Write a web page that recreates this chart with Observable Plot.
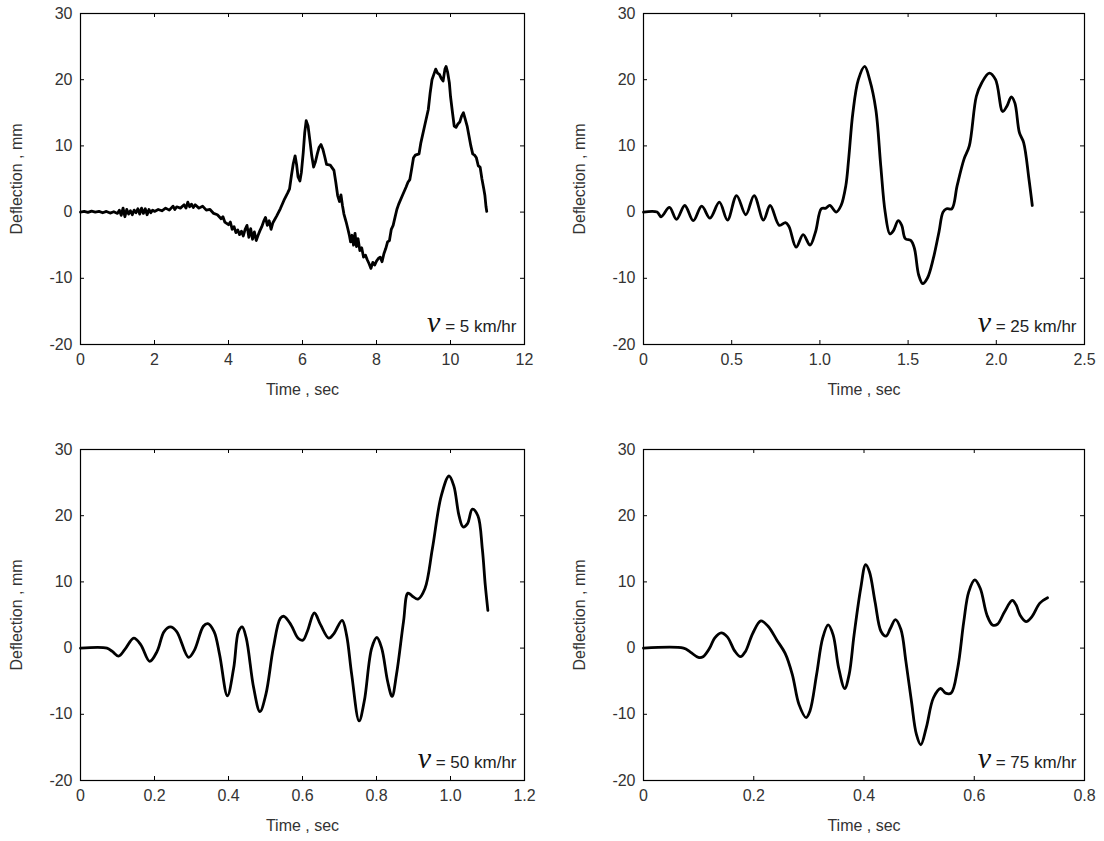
<!DOCTYPE html>
<html>
<head>
<meta charset="utf-8">
<script src="https://cdn.jsdelivr.net/npm/d3@7"></script>
<script src="https://cdn.jsdelivr.net/npm/@observablehq/plot@0.6"></script>
<style>
  html, body { margin: 0; padding: 0; background: #fff; }
  #wrap { position: relative; width: 1104px; height: 841px; overflow: hidden; }
  #wrap > div { position: absolute; }
</style>
</head>
<body>
<div id="wrap"></div>
<script>
// ---------- data ----------
const yTicks = [-20, -10, 0, 10, 20, 30];
const yTickLabels = ["-20", "-10", "0", "10", "20", "30"];

// v = 5 km/hr
const xTicks5 = [0, 2, 4, 6, 8, 10, 12];
const xTickLabels5 = ["0", "2", "4", "6", "8", "10", "12"];
const time5 = [0,0.1,0.2,0.3,0.4,0.5,0.6,0.7,0.8,0.9,1.0,1.05,1.1,1.15,1.2,1.25,1.3,1.35,1.4,1.45,1.5,1.55,1.6,1.65,1.7,1.75,1.8,1.85,1.9,1.95,2.0,2.1,2.2,2.3,2.4,2.5,2.55,2.6,2.7,2.8,2.85,2.9,2.95,3.0,3.05,3.1,3.2,3.3,3.4,3.5,3.6,3.7,3.8,3.85,3.9,4.0,4.05,4.1,4.15,4.2,4.25,4.3,4.35,4.4,4.45,4.5,4.55,4.6,4.65,4.7,4.75,4.8,4.85,4.9,4.95,5.0,5.05,5.1,5.15,5.2,5.3,5.4,5.5,5.6,5.65,5.7,5.75,5.8,5.84,5.88,5.93,5.97,6.02,6.06,6.1,6.15,6.2,6.25,6.3,6.35,6.4,6.45,6.5,6.55,6.6,6.65,6.75,6.85,6.9,6.95,7.0,7.04,7.08,7.12,7.18,7.22,7.27,7.3,7.34,7.38,7.42,7.46,7.5,7.55,7.6,7.65,7.7,7.75,7.8,7.85,7.9,7.95,8.0,8.05,8.1,8.15,8.2,8.25,8.3,8.35,8.4,8.45,8.5,8.55,8.6,8.7,8.8,8.85,8.9,8.95,9.0,9.05,9.15,9.2,9.3,9.4,9.45,9.5,9.55,9.6,9.65,9.7,9.75,9.8,9.85,9.88,9.92,9.97,10.0,10.05,10.1,10.15,10.2,10.25,10.3,10.35,10.4,10.45,10.5,10.55,10.6,10.65,10.7,10.75,10.8,10.85,10.9,10.93,10.96,10.98];
const defl5 = [0,0.1,-0.05,0.15,0.0,0.1,-0.1,0.1,-0.15,0.05,-0.2,0.3,-0.5,0.6,-0.7,0.4,-0.3,0.2,-0.4,0.3,-0.1,0.5,-0.3,0.6,-0.2,0.5,-0.4,0.4,-0.1,0.3,0.1,0.4,0.2,0.6,0.3,0.9,0.4,0.8,0.6,1.1,0.6,1.5,0.8,1.2,0.7,1.1,0.6,0.9,0.3,0.4,-0.2,-0.4,-1.0,-0.7,-1.5,-1.9,-1.5,-2.6,-2.2,-3.1,-2.7,-3.4,-2.9,-3.6,-2.6,-2.0,-3.8,-2.5,-4.1,-3.0,-4.3,-3.5,-2.8,-2.2,-1.4,-0.8,-2.0,-1.3,-2.6,-1.6,-0.6,0.5,1.8,2.9,3.5,5.5,7.3,8.5,7.2,5.3,4.7,6.0,9.0,12.0,13.8,13.0,10.8,8.5,6.8,7.6,8.8,9.8,10.2,9.5,8.4,7.2,7.1,6.3,4.5,2.5,1.6,2.6,1.0,-0.3,-1.5,-2.4,-3.6,-4.5,-3.5,-5.0,-3.2,-5.2,-4.0,-5.8,-5.4,-6.8,-6.5,-7.2,-7.8,-8.5,-7.6,-8.0,-7.4,-7.0,-6.8,-7.5,-6.3,-5.5,-4.5,-4.3,-2.6,-2.0,-0.8,0.4,1.2,2.5,3.8,4.5,4.9,6.5,8.2,8.6,8.8,10.5,13.0,15.5,18.0,20.0,20.8,21.6,21.0,20.8,20.2,19.8,21.6,22.0,21.2,19.5,17.5,15.2,13.0,12.8,13.3,13.6,14.5,15.0,14.0,13.0,11.5,10.0,8.8,8.6,8.2,7.0,6.8,5.0,3.5,2.5,0.8,0.1];

// v = 25 km/hr
const xTicks25 = [0, 0.5, 1.0, 1.5, 2.0, 2.5];
const xTickLabels25 = ["0", "0.5", "1.0", "1.5", "2.0", "2.5"];
const time25 = [0,0.077,0.10,0.147,0.187,0.234,0.282,0.33,0.377,0.43,0.476,0.528,0.58,0.627,0.68,0.718,0.77,0.805,0.825,0.865,0.905,0.944,0.975,1.008,1.034,1.056,1.093,1.12,1.147,1.163,1.187,1.218,1.254,1.282,1.317,1.345,1.37,1.397,1.417,1.444,1.464,1.484,1.516,1.536,1.56,1.583,1.609,1.643,1.675,1.698,1.718,1.748,1.778,1.817,1.847,1.887,1.917,1.96,1.996,2.036,2.06,2.085,2.105,2.131,2.155,2.185,2.204];
const defl25 = [0,0,-0.7,0.7,-1.1,1.0,-1.3,0.9,-0.9,1.5,-1.2,2.5,-0.4,2.5,-1.2,1.0,-2.0,-1.6,-2.2,-5.3,-3.4,-5.0,-3.0,0.5,0.6,1.0,0,1.0,4,8,15,20,22,20,15.5,7,0,-3.3,-2.8,-1.3,-2.0,-4,-4.3,-5.5,-9.5,-10.8,-10,-7,-3,0,0.5,0.5,4,8,10,17.5,19.5,21,20,15.2,16,17.4,16.5,12,10.5,5,1];

// v = 50 km/hr
const xTicks50 = [0, 0.2, 0.4, 0.6, 0.8, 1.0, 1.2];
const xTickLabels50 = ["0", "0.2", "0.4", "0.6", "0.8", "1.0", "1.2"];
const time50 = [0,0.0715,0.086,0.103,0.12,0.144,0.163,0.187,0.207,0.226,0.243,0.26,0.292,0.308,0.332,0.344,0.361,0.376,0.397,0.414,0.427,0.437,0.448,0.468,0.485,0.501,0.521,0.54,0.55,0.569,0.588,0.601,0.613,0.632,0.649,0.671,0.685,0.707,0.719,0.733,0.753,0.767,0.787,0.801,0.814,0.83,0.842,0.854,0.873,0.885,0.898,0.912,0.931,0.951,0.975,0.996,1.009,1.023,1.034,1.046,1.059,1.074,1.086,1.094,1.101];
const defl50 = [0,0,-0.5,-1.2,-0.2,1.5,0.5,-2,-0.5,2.5,3.2,2.5,-1.4,-0.3,3.3,3.7,2.5,-1,-7.2,-3,2.5,3.2,1.5,-6,-9.6,-7,0,4.5,4.8,3.5,1.5,1.2,2.5,5.3,3.5,1.5,2.2,4.2,2,-4,-11,-8,0,1.6,0,-5,-7.3,-4,4,8.3,7.8,7.4,9,15,23,26,24.5,20,18.3,18.8,21,20,15,9.5,5.7];

// v = 75 km/hr
const xTicks75 = [0, 0.2, 0.4, 0.6, 0.8];
const xTickLabels75 = ["0", "0.2", "0.4", "0.6", "0.8"];
const time75 = [0,0.0726,0.085,0.0995,0.108,0.12,0.129,0.141,0.152,0.166,0.176,0.185,0.198,0.213,0.226,0.242,0.257,0.27,0.282,0.295,0.302,0.314,0.325,0.335,0.344,0.354,0.365,0.373,0.382,0.394,0.403,0.41,0.42,0.431,0.44,0.448,0.457,0.467,0.476,0.486,0.495,0.503,0.513,0.526,0.539,0.548,0.558,0.57,0.581,0.59,0.601,0.611,0.623,0.633,0.642,0.655,0.669,0.676,0.683,0.694,0.705,0.719,0.733];
const defl75 = [0,0,-0.6,-1.4,-1.3,0,1.5,2.3,1.7,-0.5,-1.3,-0.5,2.2,4.1,3.3,1.2,-0.8,-4,-8.5,-10.5,-9.5,-4,1.5,3.5,2,-3,-6.1,-4,2,9,12.6,11.5,7,2.5,1.8,3,4.3,2.8,-2,-8,-13,-14.6,-12,-7.5,-6.1,-6.8,-6.8,-3,4,8.5,10.3,9,5,3.5,3.6,5.5,7.2,6.5,5,4,4.8,6.8,7.6];

const speedLabels = ["5 km/hr", "25 km/hr", "50 km/hr", "75 km/hr"];

// ---------- layout ----------
const H = 420, MT = 13, MB = 76, ML = 80;
const panels = [
  {time: time5,  defl: defl5,  xDomain: [0, 12],  xTicks: xTicks5,  xLabels: xTickLabels5,  speed: speedLabels[0], curve: "linear",     left: 0,   top: 0,   width: 552, mr: 28},
  {time: time25, defl: defl25, xDomain: [0, 2.5], xTicks: xTicks25, xLabels: xTickLabels25, speed: speedLabels[1], curve: "catmull-rom", left: 563, top: 0,   width: 541, mr: 20},
  {time: time50, defl: defl50, xDomain: [0, 1.2], xTicks: xTicks50, xLabels: xTickLabels50, speed: speedLabels[2], curve: "catmull-rom", left: 0,   top: 436, width: 552, mr: 28},
  {time: time75, defl: defl75, xDomain: [0, 0.8], xTicks: xTicks75, xLabels: xTickLabels75, speed: speedLabels[3], curve: "catmull-rom", left: 563, top: 436, width: 541, mr: 20}
];

const wrap = document.getElementById("wrap");
const yLabelMap = new Map(yTicks.map((t, i) => [t, yTickLabels[i]]));

panels.forEach(p => {
  const data = p.time.map((t, i) => ({t, d: p.defl[i]}));
  const xLabelMap = new Map(p.xTicks.map((t, i) => [t, p.xLabels[i]]));
  const plotW = p.width - ML - p.mr;
  const plotH = H - MT - MB;
  const chart = Plot.plot({
    width: p.width,
    height: H,
    marginLeft: ML, marginRight: p.mr, marginTop: MT, marginBottom: MB,
    style: {fontFamily: "'Liberation Sans', Arial, sans-serif", fontSize: "16px", color: "#333", background: "transparent", overflow: "visible"},
    x: {domain: p.xDomain},
    y: {domain: [-20, 30]},
    marks: [
      Plot.line(data, {x: "t", y: "d", stroke: "black", strokeWidth: 2.8, curve: p.curve, strokeLinejoin: "round"}),
      Plot.tickX(p.xTicks, {x: d => d, insetTop: plotH - 4, stroke: "black"}),
      Plot.tickX(p.xTicks, {x: d => d, insetBottom: plotH - 4, stroke: "black"}),
      Plot.tickY(yTicks, {y: d => d, insetRight: plotW - 4, stroke: "black"}),
      Plot.tickY(yTicks, {y: d => d, insetLeft: plotW - 4, stroke: "black"}),
      Plot.frame({stroke: "black", strokeWidth: 1.2}),
      Plot.axisX(p.xTicks, {tickSize: 0, tickPadding: 9, tickFormat: d => xLabelMap.get(d), label: "Time , sec", labelAnchor: "center", labelArrow: "none", labelOffset: 50}),
      Plot.axisY(yTicks, {tickSize: 0, tickPadding: 8, tickFormat: d => yLabelMap.get(d), label: "Deflection , mm", labelAnchor: "center", labelArrow: "none", labelOffset: 70}),
      Plot.text([p.speed], {frameAnchor: "bottom-right", text: d => d, dx: -8, dy: -13, textAnchor: "end", fontSize: 17, fill: "#222", className: "vlabel"})
    ]
  });
  const holder = document.createElement("div");
  holder.style.left = p.left + "px";
  holder.style.top = p.top + "px";
  holder.appendChild(chart);
  wrap.appendChild(holder);
  // make the speed label "ν = ... km/hr" with an italic serif ν
  d3.select(chart).selectAll(".vlabel text").each(function() {
    const t = d3.select(this);
    const s = t.text();
    t.text(null);
    t.append("tspan").attr("font-family", "'Liberation Serif', 'DejaVu Serif', serif").attr("font-style", "italic").attr("font-size", 30).attr("fill", "#111").text("\u03BD");
    t.append("tspan").text(" = " + s);
  });
});
</script>
</body>
</html>
